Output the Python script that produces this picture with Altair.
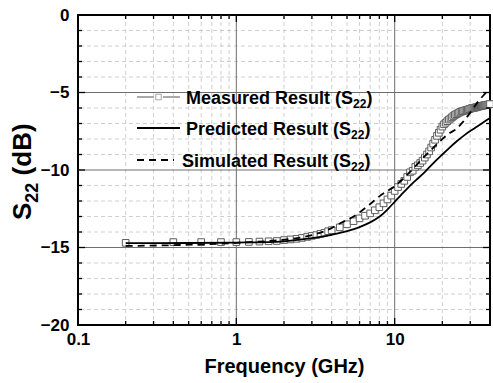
import altair as alt
import pandas as pd

# ---------------- data ----------------
meas_f = [0.2, 0.4, 0.6, 0.8, 1.0, 1.2, 1.4, 1.6, 1.8, 2.0, 2.2, 2.4, 2.6, 2.8, 3.0, 3.2, 3.4, 3.6, 3.8, 4.0,
          4.5, 5.0, 5.5, 6.0, 6.5, 7.0, 7.5, 8.0, 8.5, 9.0, 9.5,
          10, 10.5, 11, 11.5, 12, 12.5, 13, 13.5, 14, 14.5, 15, 15.5, 16, 16.5, 17, 17.5, 18, 18.5,
          19, 19.5, 20, 20.5, 21, 21.5, 22, 22.5, 23, 23.5, 24, 24.5, 25, 25.5, 26, 26.5, 27, 27.5,
          28, 28.5, 29, 29.5, 30, 30.5, 31, 31.5, 32, 32.5, 33, 33.5, 34, 34.5, 35, 35.5, 36, 36.5,
          37, 37.5, 38, 38.5, 39, 39.5, 40]
meas_db = [-14.70, -14.65, -14.65, -14.65, -14.65, -14.64, -14.62, -14.60, -14.58, -14.52, -14.48, -14.44,
           -14.38, -14.32, -14.25, -14.20, -14.12, -14.05, -13.95, -13.88,
           -13.70, -13.50, -13.30, -13.12, -12.95, -12.80, -12.60, -12.40, -12.15, -11.90, -11.65,
           -11.35, -11.10, -10.90, -10.70, -10.45, -10.15, -10.05, -9.80, -9.70, -9.55, -9.40, -9.20,
           -9.00, -8.80, -8.55, -8.30, -8.05, -7.80, -7.60, -7.40, -7.20, -7.05, -6.95, -6.85, -6.75,
           -6.68, -6.60, -6.52, -6.45, -6.40, -6.35, -6.30, -6.25, -6.22, -6.20, -6.17, -6.15, -6.12,
           -6.10, -6.08, -6.05, -6.02, -6.00, -5.99, -5.98, -5.96, -5.95, -5.92, -5.90, -5.89, -5.88,
           -5.86, -5.85, -5.83, -5.82, -5.81, -5.80, -5.79, -5.78, -5.76, -5.75]

pred_f = [0.2, 0.5, 1, 1.6, 2, 3, 4, 5, 6, 7, 8, 9, 10, 11, 12, 13, 14, 15.6, 18, 20, 22, 25, 28,
          32, 36, 40]
pred_db = [-14.72, -14.71, -14.68, -14.65, -14.60, -14.40, -14.18, -13.95, -13.68, -13.38, -13.02,
           -12.55, -12.05, -11.60, -11.20, -10.85, -10.55, -10.10, -9.45, -9.00, -8.60, -8.10, -7.70,
           -7.30, -6.95, -6.65]

sim_f = [0.2, 0.4, 0.6, 1, 1.5, 2, 3, 4, 4.5, 5.6, 6.9, 8, 9, 10, 12, 13.4, 15, 17, 20, 22, 24.5,
         27, 30, 33, 37, 40]
sim_db = [-14.90, -14.85, -14.80, -14.70, -14.60, -14.50, -14.20, -13.75, -13.45, -12.95, -12.25,
          -11.70, -11.35, -11.05, -10.30, -9.80, -9.25, -8.70, -8.00, -7.65, -7.35, -6.90, -6.30,
          -5.70, -5.10, -4.75]

x_labels = [0.1, 1, 10]
y_labels = [0, -5, -10, -15, -20]
x_major_grid = [1, 10]
x_minor_grid = [0.2, 0.3, 0.4, 0.5, 0.6, 0.7, 0.8, 0.9, 2, 3, 4, 5, 6, 7, 8, 9, 20, 30]
y_major_grid = [-5, -10, -15]
y_minor_grid = [-1, -2, -3, -4, -6, -7, -8, -9, -11, -12, -13, -14, -16, -17, -18, -19]

legend_main = ["Measured Result (S", "Predicted Result (S", "Simulated Result (S"]
legend_em = [9.280, 9.169, 9.391]   # Arial/Liberation Bold advance widths in em
sub_text = "22"
y_title_parts = ["S", "22", "(dB)"]

# ---------------- chart ----------------
W, H = 412, 310
FONT = "Liberation Sans"

xs = alt.Scale(type="log", domain=[0.1, 40], nice=False)
ys = alt.Scale(domain=[-20, 0], nice=False)

meas = pd.DataFrame({"f": meas_f, "db": meas_db})
pred = pd.DataFrame({"f": pred_f, "db": pred_db})
sim = pd.DataFrame({"f": sim_f, "db": sim_db})

xaxis = alt.Axis(values=x_labels, format="~g", grid=False, ticks=False, domain=False,
                 labelFont=FONT, labelFontSize=17, labelFontWeight="bold", labelColor="black",
                 labelPadding=6, title="Frequency (GHz)", titleFont=FONT, titleFontSize=20,
                 titleFontWeight="bold", titleColor="black", titlePadding=9, labelFlush=False)
yaxis = alt.Axis(values=y_labels, grid=False, ticks=False, domain=False,
                 labelFont=FONT, labelFontSize=17, labelFontWeight="bold", labelColor="black",
                 labelPadding=9, title=None, labelFlush=False)

X = alt.X("f:Q", scale=xs, axis=xaxis)
Y = alt.Y("db:Q", scale=ys, axis=yaxis)

# grids
gx_minor = alt.Chart(pd.DataFrame({"f": x_minor_grid})).mark_rule(
    color="#c4c4c4", strokeWidth=0.8, strokeDash=[4, 3]).encode(x=X)
gy_minor = alt.Chart(pd.DataFrame({"db": y_minor_grid})).mark_rule(
    color="#c4c4c4", strokeWidth=0.8, strokeDash=[4, 3]).encode(y=Y)
gx_major = alt.Chart(pd.DataFrame({"f": x_major_grid})).mark_rule(
    color="#6e6e6e", strokeWidth=1).encode(x=X)
gy_major = alt.Chart(pd.DataFrame({"db": y_major_grid})).mark_rule(
    color="#6e6e6e", strokeWidth=1).encode(y=Y)

# inward ticks
def xticks(vals, length):
    b = alt.Chart(pd.DataFrame({"f": vals})).mark_rule(color="black", strokeWidth=1.3)
    return (b.encode(x=X, y=alt.value(H), y2=alt.value(H - length)) +
            b.encode(x=X, y=alt.value(0), y2=alt.value(length)))

def yticks(vals, length):
    b = alt.Chart(pd.DataFrame({"db": vals})).mark_rule(color="black", strokeWidth=1.3)
    return (b.encode(y=Y, x=alt.value(0), x2=alt.value(length)) +
            b.encode(y=Y, x=alt.value(W), x2=alt.value(W - length)))

ticks = xticks(x_major_grid, 7) + xticks(x_minor_grid, 4) + yticks(y_major_grid, 7) + yticks(y_minor_grid, 4)

# data layers
meas_pts = alt.Chart(meas).mark_point(shape="square", size=44, filled=False, color="#5e5e5e",
                                      fill="white", fillOpacity=1, strokeWidth=1, opacity=1).encode(x=X, y=Y)
sim_line = alt.Chart(sim).mark_line(color="black", strokeWidth=1.8, strokeDash=[7, 5],
                                    interpolate="monotone").encode(x=X, y=Y)
pred_line = alt.Chart(pred).mark_line(color="black", strokeWidth=1.8,
                                      interpolate="monotone").encode(x=X, y=Y)

one = pd.DataFrame({"a": [0]})

# legend (manual)
LX0, LX1 = 59, 102
TX = [108, 108, 104]
rows = [82, 113, 145]
LFS, SFS = 18, 12
leg = [
    alt.Chart(one).mark_rule(color="#555555", strokeWidth=1).encode(
        x=alt.value(LX0), x2=alt.value(76), y=alt.value(rows[0])),
    alt.Chart(one).mark_rule(color="#555555", strokeWidth=1).encode(
        x=alt.value(85), x2=alt.value(LX1), y=alt.value(rows[0])),
    alt.Chart(one).mark_point(shape="square", size=30, filled=False, color="#7d7d7d",
                              strokeWidth=1).encode(x=alt.value(80.5), y=alt.value(rows[0])),
    alt.Chart(one).mark_rule(color="black", strokeWidth=1.8).encode(
        x=alt.value(LX0), x2=alt.value(LX1), y=alt.value(rows[1])),
    alt.Chart(one).mark_rule(color="black", strokeWidth=1.8, strokeDash=[7, 5]).encode(
        x=alt.value(LX0), x2=alt.value(96), y=alt.value(rows[2])),
]
for i, lab in enumerate(legend_main):
    x0 = TX[i]
    x1 = x0 + legend_em[i] * LFS
    x2 = x1 + 2 * 0.556 * SFS
    leg.append(alt.Chart(pd.DataFrame({"t": [lab]})).mark_text(
        align="left", baseline="alphabetic", font=FONT, fontSize=LFS, fontWeight="bold", color="black"
    ).encode(text="t:N", x=alt.value(x0), y=alt.value(rows[i] + 6.5)))
    leg.append(alt.Chart(pd.DataFrame({"t": [sub_text]})).mark_text(
        align="left", baseline="alphabetic", font=FONT, fontSize=SFS, fontWeight="bold", color="black"
    ).encode(text="t:N", x=alt.value(x1), y=alt.value(rows[i] + 11)))
    leg.append(alt.Chart(pd.DataFrame({"t": [")"]})).mark_text(
        align="left", baseline="alphabetic", font=FONT, fontSize=LFS, fontWeight="bold", color="black"
    ).encode(text="t:N", x=alt.value(x2), y=alt.value(rows[i] + 6.5)))

# y-axis title (rotated, with subscript)
TFS, TSFS = 26, 18
ty0 = 205
ty1 = ty0 - 0.667 * TFS
ty2 = ty1 - 2 * 0.556 * TSFS - 0.278 * TFS
ytitle = [
    alt.Chart(pd.DataFrame({"t": [y_title_parts[0]]})).mark_text(
        align="left", baseline="alphabetic", angle=270, font=FONT, fontSize=TFS, fontWeight="bold",
        color="black").encode(text="t:N", x=alt.value(-47), y=alt.value(ty0)),
    alt.Chart(pd.DataFrame({"t": [y_title_parts[1]]})).mark_text(
        align="left", baseline="alphabetic", angle=270, font=FONT, fontSize=TSFS, fontWeight="bold",
        color="black").encode(text="t:N", x=alt.value(-40), y=alt.value(ty1)),
    alt.Chart(pd.DataFrame({"t": [y_title_parts[2]]})).mark_text(
        align="left", baseline="alphabetic", angle=270, font=FONT, fontSize=TFS, fontWeight="bold",
        color="black").encode(text="t:N", x=alt.value(-47), y=alt.value(ty2)),
]

chart = alt.layer(gx_minor, gy_minor, gx_major, gy_major, meas_pts, sim_line, pred_line,
                  ticks, *leg, *ytitle).properties(
    width=W, height=H, autosize=alt.AutoSizeParams(type="none"),
    padding={"left": 78, "top": 15, "right": 3, "bottom": 58},
    background="white",
).configure_view(stroke="black", strokeWidth=2)

chart.save("out.html", embed_options={"renderer": "svg", "actions": False})
